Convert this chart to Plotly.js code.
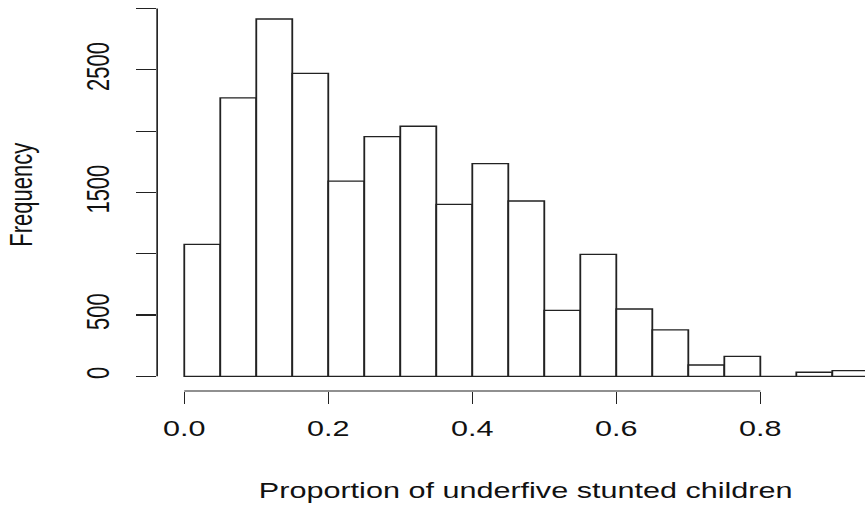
<!DOCTYPE html>
<html>
<head>
<meta charset="utf-8">
<script src="https://cdn.plot.ly/plotly-3.0.1.min.js"></script>
<style>
  html, body { margin: 0; padding: 0; background: #fff; overflow: hidden; }
  #wrap { width: 865px; height: 506px; overflow: hidden; }
  #chart { width: 622px; height: 506px; transform: scaleX(1.3907); transform-origin: 0 0; }
</style>
</head>
<body>
<div id="wrap"><div id="chart"></div></div>
<script>
// Histogram bins (left edges), width 0.05
const binLeft = [0.00, 0.05, 0.10, 0.15, 0.20, 0.25, 0.30, 0.35, 0.40, 0.45,
                 0.50, 0.55, 0.60, 0.65, 0.70, 0.75, 0.80, 0.85, 0.90];
const binWidth = 0.05;
const counts = [1077, 2271, 2915, 2472, 1593, 1955, 2040, 1403, 1735, 1430,
                538, 995, 549, 378, 92, 163, 0, 33, 46];

const xTickVals = [0, 0.2, 0.4, 0.6, 0.8];
const xTickText = ['0.0', '0.2', '0.4', '0.6', '0.8'];
const yTickVals = [0, 500, 1000, 1500, 2000, 2500, 3000];
const yTickText = ['0', '500', '', '1500', '', '2500', ''];

const xTitle = 'Proportion of underfive stunted children';
const yTitle = 'Frequency';

const font = { family: 'Liberation Sans, Arial, sans-serif', size: 22, color: '#111' };
const ink = '#222';

const trace = {
  type: 'bar',
  x: binLeft.map(v => v + binWidth / 2),
  y: counts,
  width: binWidth,
  marker: { color: '#ffffff', line: { color: ink, width: 1.3 } },
  hoverinfo: 'skip'
};

const layout = {
  width: 622, height: 506, autosize: false,
  margin: { l: 113, r: 0, t: 0, b: 115, pad: 0 },
  paper_bgcolor: '#ffffff', plot_bgcolor: '#ffffff',
  showlegend: false,
  font: font,
  bargap: 0,
  xaxis: {
    range: [-0.03766, 0.9454],
    tickmode: 'array', tickvals: xTickVals, ticktext: xTickText,
    ticks: 'outside', ticklen: 12, tickwidth: 1, tickcolor: ink,
    showline: false, showgrid: false, zeroline: false,
    tickfont: font, ticklabelstandoff: 6
  },
  yaxis: {
    range: [-120, 3070],
    tickmode: 'array', tickvals: yTickVals, ticktext: yTickText,
    ticks: 'outside', ticklen: 14, tickwidth: 1.2, tickcolor: ink,
    tickangle: -90,
    showline: false, showgrid: false, zeroline: false,
    tickfont: font, ticklabelstandoff: 11
  },
  shapes: [
    { type: 'line', xref: 'x', yref: 'paper',
      x0: xTickVals[0], x1: xTickVals[xTickVals.length - 1], y0: 0, y1: 0,
      line: { color: ink, width: 1.2 } },
    { type: 'line', xref: 'paper', yref: 'y',
      x0: 0, x1: 0, y0: yTickVals[0], y1: yTickVals[yTickVals.length - 1],
      line: { color: ink, width: 1.2 } }
  ],
  annotations: [
    { text: xTitle, xref: 'paper', yref: 'paper', x: 0.5204, y: -0.2532,
      xanchor: 'center', yanchor: 'middle', showarrow: false, font: font },
    { text: yTitle, xref: 'paper', yref: 'paper', x: -0.191, y: 0.5013,
      xanchor: 'center', yanchor: 'middle', textangle: -90, showarrow: false, font: font }
  ]
};

Plotly.newPlot('chart', [trace], layout, { displayModeBar: false, staticPlot: true });
</script>
</body>
</html>
